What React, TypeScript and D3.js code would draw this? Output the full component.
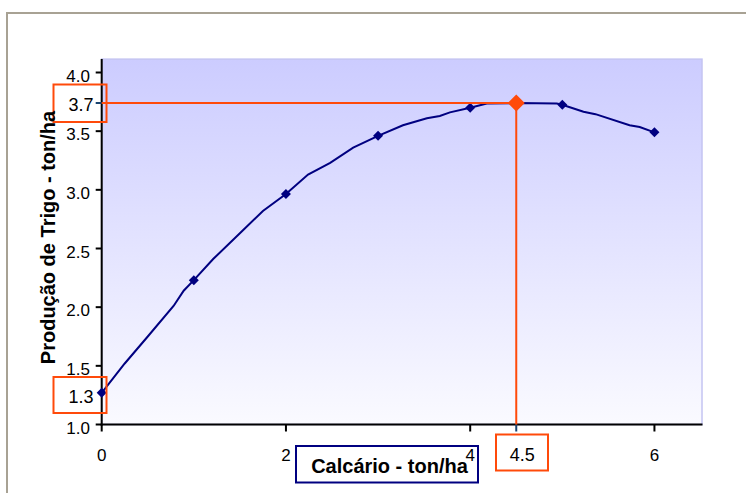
import React from "react";
import * as d3 from "d3";

// Smoothed response curve
const curveX = [0, 0.25, 0.5, 0.78, 0.89, 1.0, 1.21, 1.5, 1.75, 2.0, 2.24, 2.48, 2.73, 3.0, 3.27, 3.53, 3.67, 3.78, 4.0, 4.18, 4.5, 4.94, 5.0, 5.23, 5.36, 5.73, 5.84, 6.0];
const curveY = [1.27, 1.52, 1.75, 2.01, 2.14, 2.23, 2.41, 2.63, 2.82, 2.965, 3.13, 3.23, 3.36, 3.46, 3.55, 3.61, 3.63, 3.66, 3.70, 3.735, 3.74, 3.735, 3.725, 3.665, 3.645, 3.55, 3.535, 3.49];

// Observed points (markers)
const obsX = [0, 1, 2, 3, 4, 5, 6];
const obsY = [1.27, 2.23, 2.965, 3.46, 3.70, 3.725, 3.49];

// Maximum point
const maxX = 4.5;
const maxY = 3.74;
const maxXLabel = "4.5";
const maxYLabel = "3.7";
const minYLabel = "1.3";
const minY = 1.27;

const xTicks = [0, 2, 4, 6];
const yTicks = [1.0, 1.5, 2.0, 2.5, 3.0, 3.5, 4.0];

const xTitle = "Calcário - ton/ha";
const yTitle = "Produção de Trigo - ton/ha";

const W = 746;
const H = 493;
const NAVY = "#000080";
const ORANGE = "#FF4A0A";

export default function App() {
  const x = d3.scaleLinear().domain([0, 6.5]).range([101.7, 700.5]);
  const y = d3.scaleLinear().domain([1.0, 4.0]).range([424.5, 72.5]);
  const yTop = y(4.114);

  const line = d3
    .line<number>()
    .x((_, i) => x(curveX[i]))
    .y((d) => y(d));

  const diamond = (cx: number, cy: number, r: number) =>
    `M${cx},${cy - r}L${cx + r},${cy}L${cx},${cy + r}L${cx - r},${cy}Z`;

  const font = "Arial, 'Liberation Sans', Helvetica, sans-serif";

  return (
    <svg
      width={W}
      height={H}
      style={{ position: "absolute", left: 0, top: 0, background: "#fff" }}
      fontFamily={font}
    >
      <defs>
        <linearGradient id="bg" x1="0" y1="0" x2="0" y2="1">
          <stop offset="0%" stopColor="#CCCCFF" />
          <stop offset="100%" stopColor="#FAFAFF" />
        </linearGradient>
      </defs>
      {/* outer frame */}
      <rect x={7} y={13} width={W + 20} height={H + 20} fill="#fff" stroke="#A8A294" strokeWidth={2} />

      {/* plot area */}
      <rect
        x={x(0)}
        y={yTop}
        width={x(6.5) - x(0) + 1.5}
        height={y(1) - yTop}
        fill="url(#bg)"
        stroke="#C4C4F2"
        strokeWidth={1.5}
      />

      {/* axes */}
      <line x1={x(0)} x2={x(0)} y1={yTop} y2={y(1) + 1} stroke="#000" strokeWidth={2} />
      <line x1={x(0) - 1} x2={x(6.5) + 2} y1={y(1)} y2={y(1)} stroke="#000" strokeWidth={2} />

      {/* y ticks */}
      {yTicks.map((t) => (
        <g key={"y" + t}>
          <line x1={x(0) - 6} x2={x(0)} y1={y(t)} y2={y(t)} stroke="#000" strokeWidth={2} />
          <text x={90} y={y(t) + 9} textAnchor="end" fontSize={17} fill="#000">
            {d3.format(".1f")(t)}
          </text>
        </g>
      ))}
      {/* x ticks */}
      {xTicks.map((t) => (
        <g key={"x" + t}>
          <line x1={x(t)} x2={x(t)} y1={y(1)} y2={y(1) + 7} stroke="#000" strokeWidth={2} />
        </g>
      ))}
      <line x1={x(maxX)} x2={x(maxX)} y1={y(1)} y2={y(1) + 7} stroke="#1A4470" strokeWidth={2} />
      <line x1={x(0) - 6} x2={x(0)} y1={y(maxY)} y2={y(maxY)} stroke="#1A4470" strokeWidth={2} />

      {/* curve */}
      <path d={line(curveY) || ""} fill="none" stroke={NAVY} strokeWidth={2} />
      {obsY.map((v, i) => (
        <path key={"m" + i} d={diamond(x(obsX[i]), y(v), 5)} fill={NAVY} />
      ))}

      {/* guide lines to max */}
      <line x1={x(0)} x2={x(maxX)} y1={y(maxY)} y2={y(maxY)} stroke={ORANGE} strokeWidth={2} />
      <line x1={x(maxX)} x2={x(maxX)} y1={y(maxY)} y2={y(1)} stroke={ORANGE} strokeWidth={2} />
      <path d={diamond(x(maxX), y(maxY), 8.5)} fill={ORANGE} />

      {/* highlighted labels */}
      <rect x={53.5} y={84.5} width={53} height={37.5} fill="none" stroke={ORANGE} strokeWidth={2} />
      <text x={93.5} y={y(maxY) + 8} textAnchor="end" fontSize={18} fill="#000">
        {maxYLabel}
      </text>
      <rect x={53.5} y={377} width={53} height={36} fill="none" stroke={ORANGE} strokeWidth={2} />
      <text x={93.5} y={y(minY) + 10.5} textAnchor="end" fontSize={18} fill="#000">
        {minYLabel}
      </text>

      {/* x title box */}
      <rect x={296} y={446} width={182} height={36.5} fill="#fff" stroke={NAVY} strokeWidth={2} />
      <text x={389.5} y={472.5} textAnchor="middle" fontSize={20} fontWeight="bold" fill="#000">
        {xTitle}
      </text>

      {/* x tick labels (drawn over box) */}
      {xTicks.map((t) => (
        <text key={"xl" + t} x={x(t)} y={461} textAnchor="middle" fontSize={17} fill="#000">
          {t}
        </text>
      ))}

      <rect x={496} y={434.5} width={52} height={36} fill="#fff" stroke={ORANGE} strokeWidth={2} />
      <text x={x(maxX) + 6} y={461} textAnchor="middle" fontSize={18} fill="#000">
        {maxXLabel}
      </text>

      {/* y title */}
      <text
        transform={`translate(54.5,237.5) rotate(-90)`}
        textAnchor="middle"
        fontSize={20}
        fontWeight="bold"
        fill="#000"
      >
        {yTitle}
      </text>
    </svg>
  );
}
